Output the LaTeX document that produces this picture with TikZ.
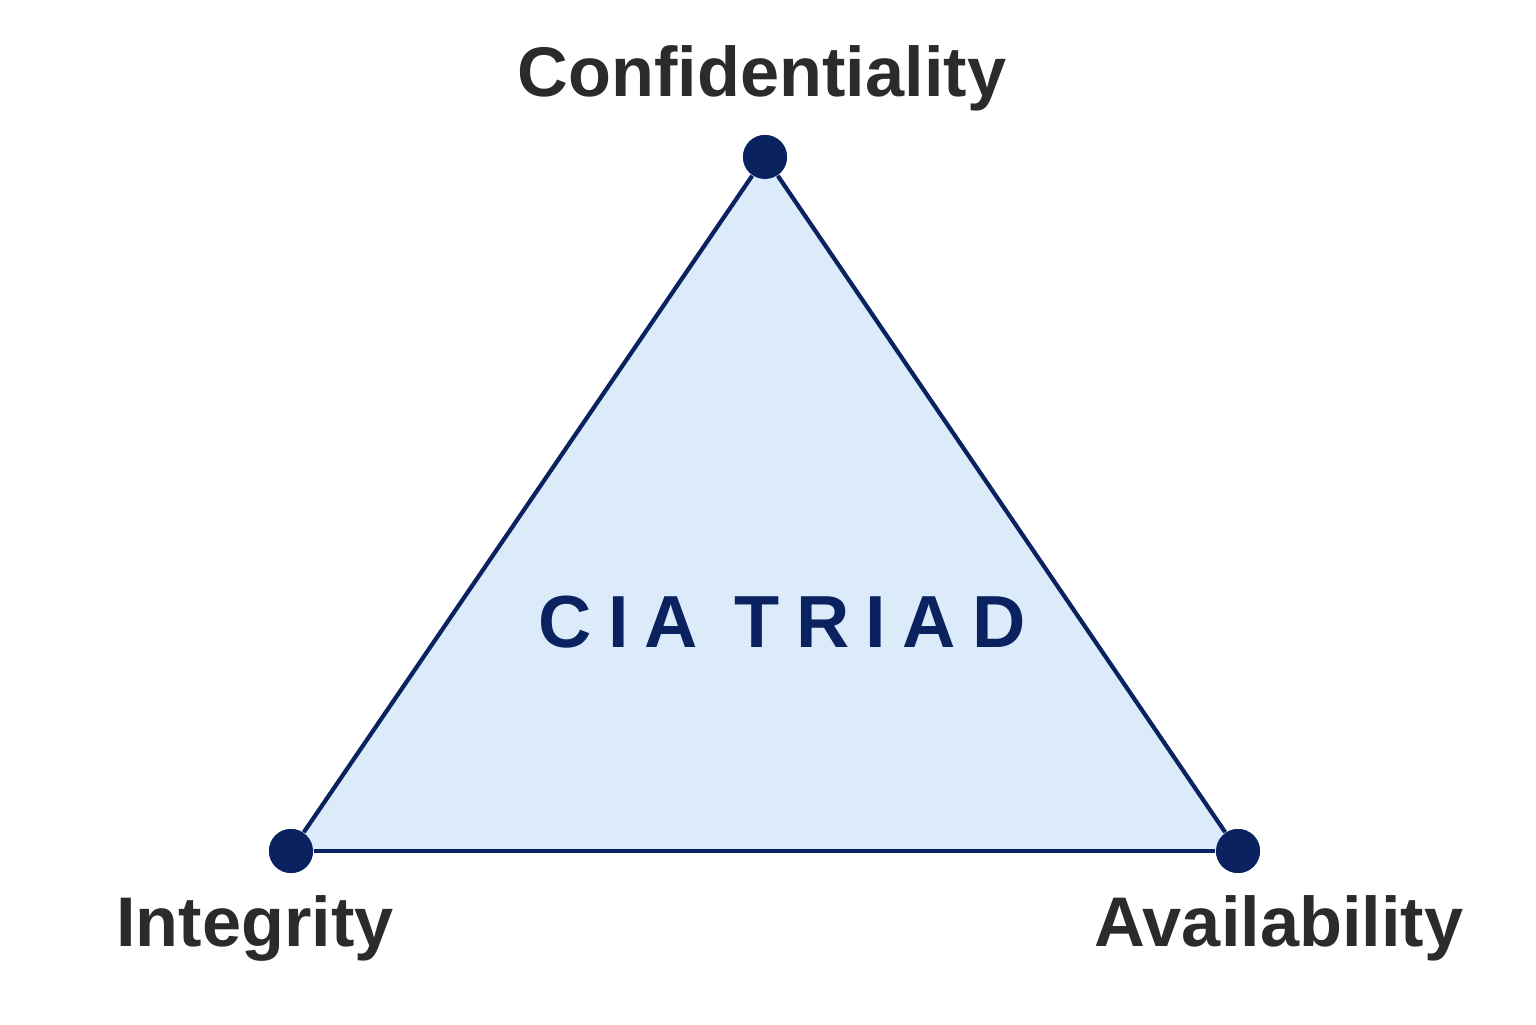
\documentclass[tikz,border=0pt]{standalone}
\usepackage{fontspec}
\setmainfont{Liberation Sans}
\definecolor{navy}{HTML}{0A2260}
\definecolor{paleblue}{HTML}{DCEBFA}
\definecolor{labelgray}{HTML}{2B2B2B}
\tikzset{
  vertex/.style={circle, fill=navy, inner sep=0pt, minimum size=0.44cm},
  corner/.style={font=\fontsize{20}{24}\selectfont\bfseries, text=labelgray}
}
\begin{document}
\begin{tikzpicture}
	    \useasboundingbox (0,0) rectangle (15.36,10.24);
	    
	    \node [vertex] (CC) at (7.65,8.67) {};
	    \node [vertex] (II) at (2.91,1.73) {};
	    \node [vertex] (AV) at (12.38,1.73) {};
	    
		\fill [paleblue] (CC.center) -- (II.center) -- (AV.center) -- cycle;
		\draw [navy, line width=1.2pt] (CC) -- (II);
		\draw [navy, line width=1.2pt] (II) -- (AV);
		\draw [navy, line width=1.2pt] (AV) -- (CC);
	    \node [vertex] at (CC) {};
	    \node [vertex] at (II) {};
	    \node [vertex] at (AV) {};
	    
	    \node [corner] (CL) at (7.62,9.46) {Confidentiality};
	    \node [corner] (IL) at (2.55,0.96) {Integrity};
	    \node [corner] (AL) at (12.79,0.96) {Availability};
	    
	    \node [font=\fontsize{21}{25}\selectfont\bfseries\addfontfeature{LetterSpace=22}, text=navy] (TT) at (7.82,4.02) {CIA TRIAD};
	\end{tikzpicture}
\end{document}
